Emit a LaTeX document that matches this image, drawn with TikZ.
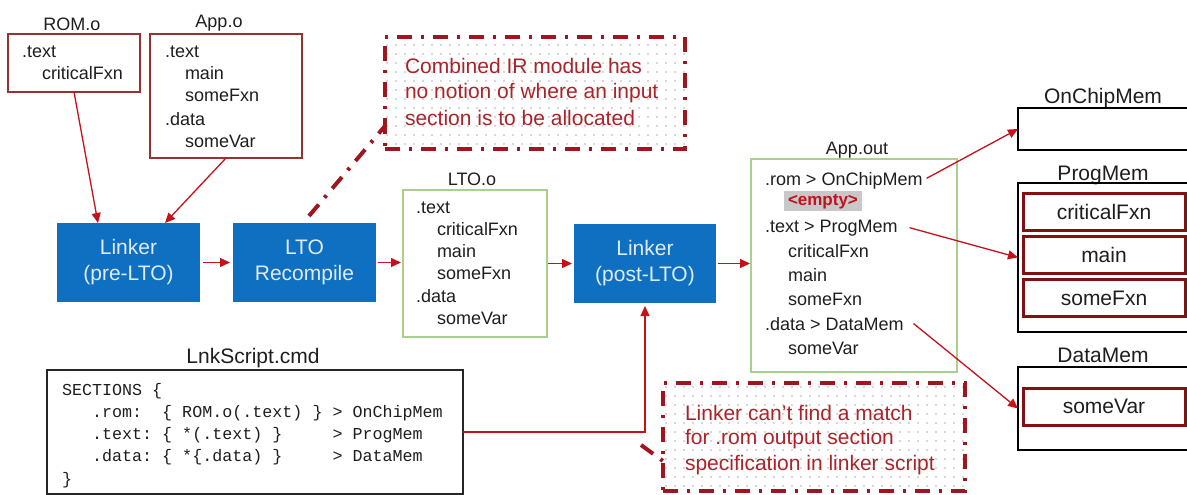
\documentclass[tikz,border=0pt]{standalone}
\usepackage{fontspec}
\setmainfont{Liberation Sans}
\setmonofont{Liberation Mono}
\usetikzlibrary{arrows.meta,patterns.meta}
\definecolor{lblue}{RGB}{15,111,192}
\definecolor{btext}{RGB}{222,236,250}
\definecolor{arr}{RGB}{200,16,26}
\definecolor{objred}{RGB}{150,50,50}
\definecolor{lgreen}{RGB}{169,208,142}
\definecolor{callred}{RGB}{160,22,32}
\definecolor{ctext}{RGB}{170,35,40}
\definecolor{memred}{RGB}{128,18,18}
\definecolor{txt}{RGB}{30,30,30}
\definecolor{hl}{RGB}{200,200,200}
\definecolor{emptyred}{RGB}{190,20,30}
\definecolor{dotc}{RGB}{185,170,170}
\begin{document}
\begin{tikzpicture}[x=1pt,y=-1pt,
  every node/.style={inner sep=0pt, outer sep=0pt, text=txt},
  fa/.style={font=\fontsize{18}{22}\selectfont},
  fb/.style={font=\fontsize{21}{26}\selectfont},
  ln/.style={anchor=base west, fa},
  mono/.style={anchor=base west, font=\ttfamily\fontsize{16.7}{22}\selectfont},
  ttl/.style={anchor=base},
  objbox/.style={draw=objred, line width=1.2pt},
  greenbox/.style={draw=lgreen, line width=1.2pt},
  bluebox/.style={fill=lblue, text=btext, fb, align=center, minimum width=143pt, minimum height=79pt},
  memouter/.style={draw=black, line width=2pt, minimum width=182pt},
  meminner/.style={draw=memred, line width=3pt, minimum width=162pt, minimum height=37pt, fb},
  callout/.style={draw=callred, line width=4pt, dash pattern=on 15pt off 9pt on 3pt off 9pt,
     pattern={Dots[distance=9pt,radius=0.8pt]}, pattern color=dotc},
  callline/.style={draw=callred, line width=4pt, dash pattern=on 15pt off 9pt on 3pt off 9pt},
  ctx/.style={anchor=base west, fb, text=ctext},
  arrow/.style={draw=arr, line width=1.3pt, -{Triangle[length=10pt,width=9pt]}}
]
\useasboundingbox (0,0) rectangle (1187,495);

% titles
\node[ttl, fa] (romT) at (72,31) {ROM.o};
\node[ttl, fa] (appT) at (219,28) {App.o};
\node[ttl, fa] (ltooT) at (472,185) {LTO.o};
\node[ttl, fa] (aoT) at (857,154) {App.out};
\node[ttl, fb] (lnkT) at (253,363) {LnkScript.cmd};
\node[ttl, fb] (ocT) at (1103,103) {OnChipMem};
\node[ttl, fb] (pmT) at (1103,180) {ProgMem};
\node[ttl, fb] (dmT) at (1103,362) {DataMem};

% object boxes
\node[objbox, minimum width=132pt, minimum height=58pt] (rom) at (74,63) {};
\node[ln] (rom1) at (22,58) {.text};
\node[ln] (rom2) at (42,80) {criticalFxn};

\node[objbox, minimum width=152pt, minimum height=124pt] (app) at (226,96) {};
\node[ln] (app1) at (165,58) {.text};
\node[ln] (app2) at (185,80) {main};
\node[ln] (app3) at (185,102) {someFxn};
\node[ln] (app4) at (165,125) {.data};
\node[ln] (app5) at (185,147) {someVar};

% process boxes
\node[bluebox] (pre) at (128.5,262.5) {Linker\\(pre-LTO)};
\node[bluebox] (ltorc) at (304.5,262.5) {LTO\\Recompile};
\node[bluebox, minimum width=142pt] (post) at (645,263.5) {Linker\\(post-LTO)};

% LTO.o
\node[greenbox, minimum width=144pt, minimum height=147pt] (ltoo) at (475,263.5) {};
\node[ln] (lt1) at (416,213) {.text};
\node[ln] (lt2) at (437,235) {criticalFxn};
\node[ln] (lt3) at (437,257) {main};
\node[ln] (lt4) at (437,279) {someFxn};
\node[ln] (lt5) at (416,302) {.data};
\node[ln] (lt6) at (437,324) {someVar};

% App.out
\node[greenbox, minimum width=206pt, minimum height=213pt] (ao) at (854,265.5) {};
\node[ln] (ao1) at (765,185) {.rom > OnChipMem};
\node[ln, fill=hl, inner xsep=4pt, inner ysep=2.5pt, text=emptyred, font=\bfseries\fontsize{17}{20}\selectfont] (ao2) at (784,205) {<empty>};
\node[ln] (ao3) at (765,232) {.text > ProgMem};
\node[ln] (ao4) at (788,257) {criticalFxn};
\node[ln] (ao5) at (788,281) {main};
\node[ln] (ao6) at (788,305) {someFxn};
\node[ln] (ao7) at (765,330) {.data > DataMem};
\node[ln] (ao8) at (788,354) {someVar};

% memories
\node[memouter, minimum height=42pt] (oc) at (1109,129) {};
\node[memouter, minimum height=149pt] (pm) at (1109,257.5) {};
\node[meminner] (pm1) at (1104,211.5) {criticalFxn};
\node[meminner] (pm2) at (1104,255) {main};
\node[meminner] (pm3) at (1104,298) {someFxn};
\node[memouter, minimum height=83pt] (dm) at (1109,408.5) {};
\node[meminner] (dm1) at (1104,406.5) {someVar};

% linker script
\node[draw=black!85, line width=1.3pt, minimum width=416pt, minimum height=124pt] (lnk) at (255,432) {};
\node[mono] (ls1) at (62,395) {SECTIONS~\{};
\node[mono] (ls2) at (62,417) {~~~.rom:~~\{~ROM.o(.text)~\}~>~OnChipMem};
\node[mono] (ls3) at (62,439) {~~~.text:~\{~*(.text)~\}~~~~~>~ProgMem};
\node[mono] (ls4) at (62,461) {~~~.data:~\{~*\{.data)~\}~~~~~>~DataMem};
\node[mono] (ls5) at (62,484) {\}};

% callouts
\node[callout, minimum width=300pt, minimum height=111pt] (c1) at (535,93) {};
\node[ctx] (c1a) at (405,74) {Combined IR module has};
\node[ctx] (c1b) at (405,99) {no notion of where an input};
\node[ctx] (c1c) at (405,125) {section is to be allocated};
\coordinate (c1tip) at (309,216);
\draw[callline] (c1tip) -- ([yshift=-33pt]c1.west);

\node[callout, minimum width=302pt, minimum height=108pt] (c2) at (814,437) {};
\node[ctx] (c2a) at (685,420) {Linker can’t find a match};
\node[ctx] (c2b) at (685,444) {for .rom output section};
\node[ctx] (c2c) at (685,470) {specification in linker script};
\coordinate (c2tip) at (641,445);
\draw[callline] (c2tip) -- ([yshift=-24pt]c2.west);

% connectors
\draw[arrow] (rom.south) -- ([xshift=41pt]pre.north west);
\draw[arrow] (app.south) -- ([xshift=108pt]pre.north west);
\draw[arrow, shorten <=3pt, shorten >=3pt] (pre.east) -- (ltorc.west);
\draw[arrow, shorten <=2pt, shorten >=2pt] (ltorc.east) -- (ltorc.east -| ltoo.west);
\draw[arrow, shorten <=1pt, shorten >=2pt] (ltoo.east |- post.east) -- (post.west);
\draw[arrow, shorten <=2pt, shorten >=1pt] (post.east) -- (post.east -| ao.west);
\draw[arrow, shorten >=3pt] (lnk.east) -| (post.south);
\draw[arrow] ([xshift=4pt,yshift=2pt]ao1.east) -- (oc.west);
\draw[arrow] ([xshift=12pt]ao3.east) -- (pm.west);
\draw[arrow] ([xshift=10pt]ao7.east) -- (dm.west);
\end{tikzpicture}
\end{document}
